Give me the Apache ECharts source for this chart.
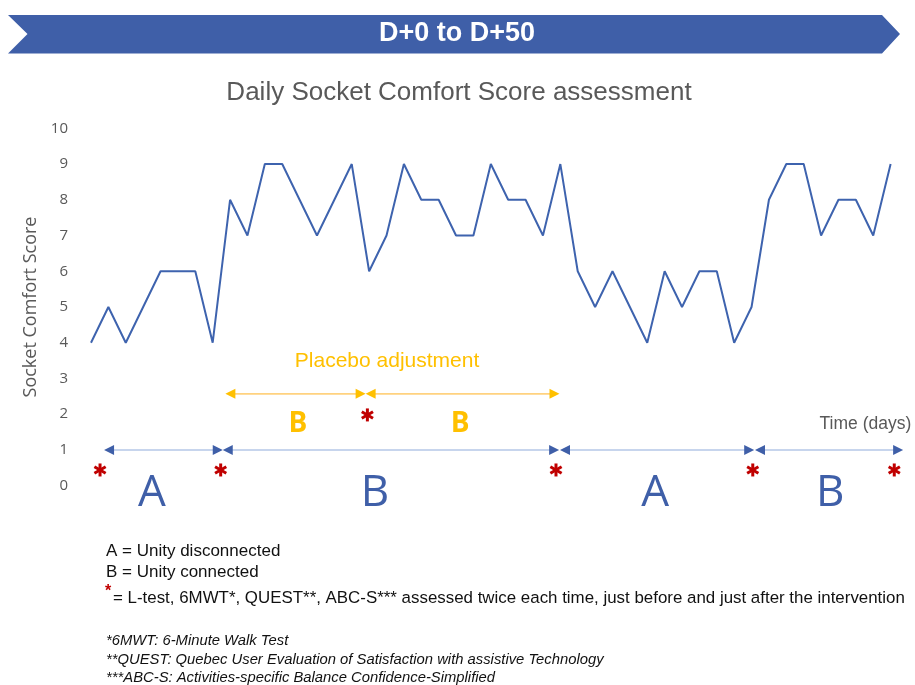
<!DOCTYPE html>
<html><head><meta charset="utf-8">
<script src="https://cdn.jsdelivr.net/npm/echarts@6/dist/echarts.min.js"></script>
<style>html,body{margin:0;padding:0;background:#fff}#c{width:915px;height:685px}</style>
</head><body><div id="c"></div>
<script>
// ---- data ----
const days = [0,1,2,3,4,5,6,7,8,9,10,11,12,13,14,15,16,17,18,19,20,21,22,23,24,25,26,27,28,29,30,31,32,33,34,35,36,37,38,39,40,41,42,43,44,45,46];
const scores = [4,5,4,5,6,6,6,4,8,7,9,9,8,7,8,9,6,7,9,8,8,7,7,9,8,8,7,9,6,5,6,5,4,6,5,6,6,4,5,8,9,9,7,8,8,7,9];
const yTicks = [0,1,2,3,4,5,6,7,8,9,10];

// phase arrows (start day, end day, level)
const phaseStart = [0.75, 7.58, 26.98, 38.2];
const phaseEnd   = [7.58, 26.93, 38.15, 46.72];
const phaseLevel = 1;
const phaseLetters = ['A','B','A','B'];
const phaseLetterX = [3.51, 16.34, 32.45, 42.52];
const phaseLetterY = -0.23;

// placebo adjustment arrows
const placeboStart = [7.73, 15.8];
const placeboEnd   = [15.8, 26.95];
const placeboLevel = 2.57;
const placeboLetters = ['B','B'];
const placeboLetterX = [11.9, 21.23];
const placeboLetterY = 1.72;

// assessment asterisks
const assessX = [0.52, 7.46, 26.75, 38.07, 46.21, 15.9];
const assessY = [0.44, 0.44, 0.44, 0.44, 0.44, 1.98];

// other labels
const placeboLabel = 'Placebo adjustment';
const placeboLabelPos = [17.03, 3.48];
const timeLabel = 'Time (days)';
const timeLabelPos = [44.55, 1.72];

// ---- chart ----
const chart = echarts.init(document.getElementById('c'));
const BLUE = '#3f5fa8';
const YEL = '#ffc000';

function arrowItem(params, api, lineColor, headColor) {
  const p0 = api.coord([api.value(0), api.value(2)]);
  const p1 = api.coord([api.value(1), api.value(2)]);
  const y = p0[1];
  return {
    type: 'group',
    children: [
      {type:'line', shape:{x1:p0[0]+6, y1:y, x2:p1[0]-6, y2:y}, style:{stroke:lineColor, lineWidth:1.6}},
      {type:'polygon', shape:{points:[[p0[0],y],[p0[0]+10,y-5],[p0[0]+10,y+5]]}, style:{fill:headColor}},
      {type:'polygon', shape:{points:[[p1[0],y],[p1[0]-10,y-5],[p1[0]-10,y+5]]}, style:{fill:headColor}}
    ]
  };
}

const textSeries = (data, texts, fill, font) => ({
  type: 'custom',
  clip: false,
  silent: true,
  encode: {x: 0, y: 1},
  data: data,
  renderItem: (params, api) => {
    const p = api.coord([api.value(0), api.value(1)]);
    return {type:'text', x:p[0], y:p[1], style:{text:texts[params.dataIndex], fill:fill, font:font, align:'center', verticalAlign:'middle'}};
  }
});

const BODY = '17px "Liberation Sans", Arial';
const FOOT = 'italic 14.8px "Liberation Sans", Arial';

chart.setOption({
  animation: false,
  grid: {left: 91, right: 7, top: 128.3, bottom: 199.3, containLabel: false},
  xAxis: {type: 'value', min: 0, max: 47, show: false},
  yAxis: {
    type: 'value', min: 0, max: 10, interval: 1,
    axisLine: {show: false}, axisTick: {show: false}, splitLine: {show: false},
    axisLabel: {color: '#595959', fontSize: 15, margin: 23, fontFamily: 'Open Sans',
      formatter: v => yTicks.indexOf(v) >= 0 ? String(v) : ''},
    name: 'Socket Comfort Score', nameLocation: 'middle', nameGap: 46,
    nameTextStyle: {color: '#595959', fontSize: 18, fontFamily: 'Open Sans'}
  },
  graphic: [
    {type:'polygon', shape:{points:[[8,15],[882,15],[900,34],[882,53.5],[8,53.5],[27.5,34]]}, style:{fill:'#3f5fa8'}},
    {type:'text', x:457, y:34, style:{text:'D+0 to D+50', fill:'#fff', font:'bold 27px "Liberation Sans Narrow", "Liberation Sans", Arial', align:'center', verticalAlign:'middle'}},
    {type:'text', x:459, y:93, style:{text:'Daily Socket Comfort Score assessment', fill:'#595959', font:'26px "Liberation Sans", Arial', align:'center', verticalAlign:'middle'}},
    {type:'text', x:106, y:551, style:{text:'A = Unity disconnected', fill:'#111', font:BODY, verticalAlign:'middle'}},
    {type:'text', x:106, y:572, style:{text:'B = Unity connected', fill:'#111', font:BODY, verticalAlign:'middle'}},
    {type:'text', x:105, y:592, style:{text:'*', fill:'#c00000', font:'bold 16px "Liberation Sans", Arial', verticalAlign:'middle'}},
    {type:'text', x:113, y:598, style:{text:'= L-test, 6MWT*, QUEST**, ABC-S*** assessed twice each time, just before and just after the intervention', fill:'#111', font:'16.9px "Liberation Sans", Arial', verticalAlign:'middle'}},
    {type:'text', x:106, y:641, style:{text:'*6MWT: 6-Minute Walk Test', fill:'#111', font:FOOT, verticalAlign:'middle'}},
    {type:'text', x:106, y:660, style:{text:'**QUEST: Quebec User Evaluation of Satisfaction with assistive Technology', fill:'#111', font:FOOT, verticalAlign:'middle'}},
    {type:'text', x:106, y:678, style:{text:'***ABC-S: Activities-specific Balance Confidence-Simplified', fill:'#111', font:FOOT, verticalAlign:'middle'}}
  ],
  series: [
    {
      type: 'line',
      data: days.map((d, i) => [d, scores[i]]),
      symbol: 'none',
      lineStyle: {color: '#3e63ae', width: 2},
      z: 5
    },
    {
      type: 'custom', clip: false, silent: true, encode: {x: [0,1], y: 2},
      data: phaseStart.map((s, i) => [s, phaseEnd[i], phaseLevel]),
      renderItem: (params, api) => arrowItem(params, api, '#b4c7e7', BLUE)
    },
    {
      type: 'custom', clip: false, silent: true, encode: {x: [0,1], y: 2},
      data: placeboStart.map((s, i) => [s, placeboEnd[i], placeboLevel]),
      renderItem: (params, api) => arrowItem(params, api, '#ffd27f', YEL)
    },
    {
      type: 'custom', clip: false, silent: true, encode: {x: 0, y: 1},
      data: assessX.map((x, i) => [x, assessY[i]]),
      renderItem: (params, api) => {
        const p = api.coord([api.value(0), api.value(1)]);
        const r = 6.5;
        const kids = [90, 30, 150].map(a => {
          const t = a * Math.PI / 180;
          return {type:'line', shape:{x1:p[0]-r*Math.cos(t), y1:p[1]-r*Math.sin(t), x2:p[0]+r*Math.cos(t), y2:p[1]+r*Math.sin(t)}, style:{stroke:'#c00000', lineWidth:3}};
        });
        return {type:'group', children: kids};
      }
    },
    textSeries(phaseLetterX.map(x => [x, phaseLetterY]), phaseLetters, BLUE, '44px "Open Sans", Arial'),
    textSeries(placeboLetterX.map(x => [x, placeboLetterY]), placeboLetters, YEL, 'bold 28px "Open Sans", Arial'),
    textSeries([placeboLabelPos], [placeboLabel], YEL, '21px "Liberation Sans", Arial'),
    textSeries([timeLabelPos], [timeLabel], '#595959', '17.5px "Liberation Sans", Arial')
  ]
});
</script></body></html>
